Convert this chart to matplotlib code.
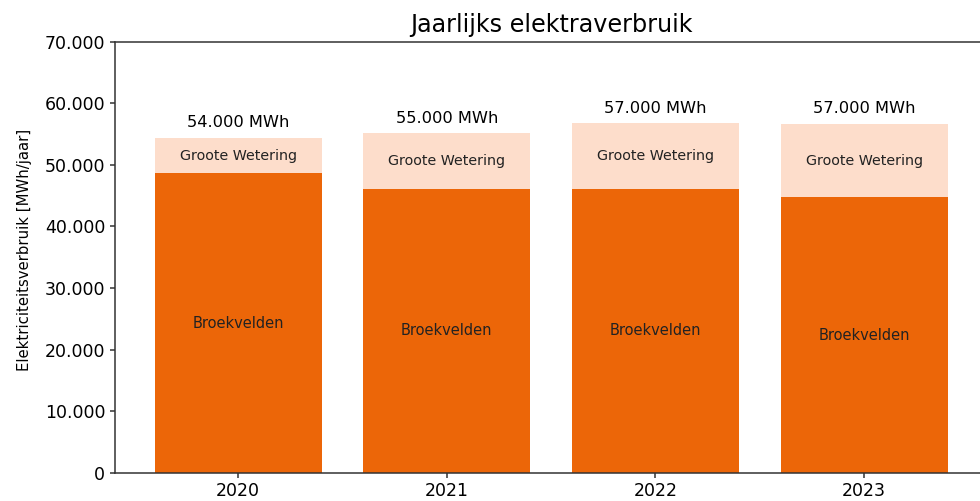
import matplotlib.pyplot as plt
from matplotlib.ticker import FuncFormatter

# Data (MWh per jaar)
years = ["2020", "2021", "2022", "2023"]
broekvelden = [48630, 46080, 46080, 44730]
groote_wetering = [5730, 9040, 10670, 11860]

c_broek = "#EC6608"
c_groote = "#FDDDCB"


def dot_thousands(v, pos):
    return f"{int(v):,}".replace(",", ".")


fig = plt.figure(figsize=(9.8, 5.01), dpi=100)
ax = fig.add_axes([0.1173, 0.0565, 0.890, 0.860])

x = list(range(len(years)))
ax.bar(x, broekvelden, width=0.8, color=c_broek)
ax.bar(x, groote_wetering, width=0.8, bottom=broekvelden, color=c_groote)

for i in x:
    total = broekvelden[i] + groote_wetering[i]
    ax.text(i, broekvelden[i] / 2, "Broekvelden", ha="center", va="center",
            fontsize=10.5, color="#222222")
    ax.text(i, broekvelden[i] + groote_wetering[i] / 2, "Groote Wetering",
            ha="center", va="center", fontsize=10.3, color="#222222")
    label = dot_thousands(round(total / 1000) * 1000, None) + " MWh"
    ax.text(i, total + 2500, label, ha="center", va="center", fontsize=11.7)

ax.set_xlim(-0.59, 3.59)
ax.set_ylim(0, 70000)
ax.set_xticks(x)
ax.set_xticklabels(years)
ax.yaxis.set_major_formatter(FuncFormatter(dot_thousands))
ax.tick_params(axis="both", labelsize=12.5, color="#333333", width=1.1)
ax.spines["right"].set_visible(False)
for s in ["top", "left", "bottom"]:
    ax.spines[s].set_color("#333333")
    ax.spines[s].set_linewidth(1.1)

ax.set_ylabel("Elektriciteitsverbruik [MWh/jaar]", fontsize=10.7)
ax.yaxis.set_label_coords(-0.095, 0.517)
ax.set_title("Jaarlijks elektraverbruik", fontsize=17.2, pad=7)

fig.savefig("out.png", dpi=100)
